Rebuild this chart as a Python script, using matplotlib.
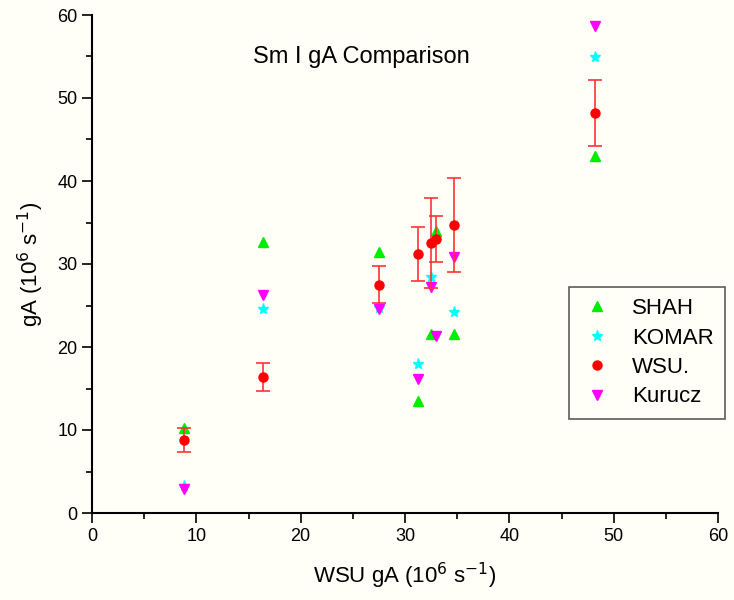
import numpy as np
import matplotlib.pyplot as plt
from matplotlib.ticker import MultipleLocator
from matplotlib.lines import Line2D

plt.rcParams['font.family'] = ['Liberation Sans', 'DejaVu Sans']

# WSU values (x axis and WSU series)
wsu = np.array([8.8, 16.4, 27.5, 31.2, 32.5, 33.0, 34.7, 48.2])
wsu_err = np.array([1.45, 1.7, 2.25, 3.3, 5.4, 2.75, 5.7, 4.0])

shah = np.array([10.2, 32.7, 31.5, 13.5, 21.6, 34.0, 21.6, 43.0])
komar = np.array([3.2, 24.6, 24.7, 18.0, 28.4, np.nan, 24.2, 54.9])
kurucz = np.array([2.9, 26.3, 24.6, 16.1, 27.2, 21.3, 30.9, 58.7])

bg = '#fffff7'
green, cyan, red, magenta = '#00ee00', '#00ffff', 'red', '#ff00ff'

fig = plt.figure(figsize=(7.34, 6), dpi=100, facecolor=bg)
ax = fig.add_axes([92 / 734, 87 / 600, 626 / 734, 498 / 600])
ax.set_facecolor(bg)

ax.plot(wsu, shah, '^', color=green, ms=7, zorder=3)
ax.plot(wsu, komar, '*', color=cyan, ms=8, zorder=3)
ax.errorbar(wsu, wsu, yerr=wsu_err, fmt='o', color=red, ecolor='#ff3333',
            ms=6.5, capsize=5, elinewidth=1.2, capthick=1.2, zorder=4)
ax.plot(wsu, kurucz, 'v', color=magenta, ms=7, zorder=3)

ax.set_xlim(0, 60)
ax.set_ylim(0, 60)
ax.xaxis.set_major_locator(MultipleLocator(10))
ax.yaxis.set_major_locator(MultipleLocator(10))
ax.xaxis.set_minor_locator(MultipleLocator(5))
ax.yaxis.set_minor_locator(MultipleLocator(5))
ax.tick_params(which='both', direction='out', width=1.2, labelsize=13)
ax.tick_params(which='major', length=7)
ax.tick_params(which='minor', length=4)
ax.spines['top'].set_visible(False)
ax.spines['right'].set_visible(False)
for s in ['left', 'bottom']:
    ax.spines[s].set_linewidth(1.5)

ax.set_xlabel('WSU gA (10$^{6}$ s$^{-1}$)', fontsize=16, labelpad=12)
ax.set_ylabel('gA (10$^{6}$ s$^{-1}$)', fontsize=16, labelpad=8)
ax.text(0.43, 0.915, 'Sm I gA Comparison', transform=ax.transAxes,
        ha='center', va='center', fontsize=17)

handles = [
    Line2D([], [], ls='none', marker='^', color=green, ms=7),
    Line2D([], [], ls='none', marker='*', color=cyan, ms=8),
    Line2D([], [], ls='none', marker='o', color=red, ms=6.5),
    Line2D([], [], ls='none', marker='v', color=magenta, ms=7),
]
labels = ['SHAH', 'KOMAR', 'WSU.', 'Kurucz']
leg = ax.legend(handles, labels, loc='upper left',
                bbox_to_anchor=(569 / 734, 1 - 287 / 600),
                bbox_transform=fig.transFigure, borderaxespad=0,
                fontsize=16, frameon=True, fancybox=False,
                edgecolor='#333333', handletextpad=0.85,
                labelspacing=0.38, borderpad=0.5, handlelength=1.5)
leg.get_frame().set_facecolor(bg)
leg.get_frame().set_linewidth(1.2)

fig.savefig('out.png', dpi=100, facecolor=bg)
